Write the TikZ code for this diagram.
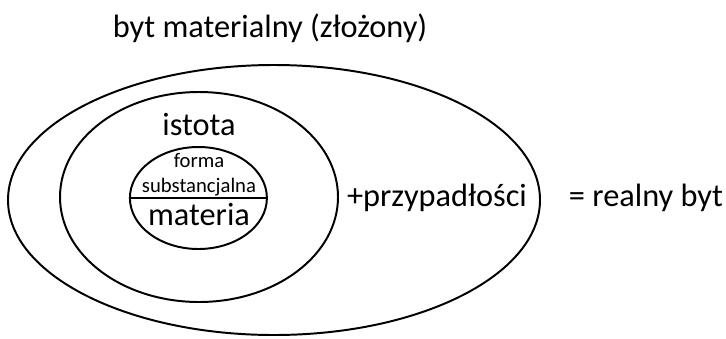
\documentclass[tikz,border=0pt]{standalone}
\usepackage{fontspec}
\setmainfont{Carlito}
\usepackage{tikz}
\usetikzlibrary{positioning,calc,shapes}
\tikzset{
    bigtext/.style = {
        font=\fontsize{23}{27}\selectfont,
        inner sep=0pt
    },
    smalltext/.style = {
        font=\fontsize{14.7}{17.5}\selectfont,
        inner sep=0pt,
        align=center
    },
    layer/.style = {
        draw,
        shape=ellipse,
        inner sep=0pt,
        line width=1.4pt
    },
    divider/.style = {
        line width=2pt
    },
}
\begin{document}
\begin{tikzpicture}
            \useasboundingbox (0,0) rectangle (18.15,-8.45);

            \node[layer, minimum width=13.3cm, minimum height=6.75cm] (byt) at (6.85,-5.0) {};
            \node[layer, minimum width=6.95cm, minimum height=5.25cm] (istota) at (4.975,-4.925) {};
            \node[layer, minimum width=3.425cm, minimum height=2.55cm] (materia) at (4.96,-4.95) {};

            \path[draw, divider] (materia.west) -- (materia.east);

            \node[bigtext] (tytul) at (6.75,-0.7) {byt materialny (złożony)};
            \node[bigtext] (istotalbl) at (4.975,-3.1) {istota};
            \node[smalltext] (forma) at (4.975,-4.36) {forma\\substancjalna};
            \node[bigtext] (materialbl) at (4.975,-5.35) {materia};
            \node[bigtext] (przyp) at (10.925,-4.95) {+przypadłości};
            \node[bigtext] (realny) at (16.15,-4.95) {= realny byt};
        \end{tikzpicture}
\end{document}
